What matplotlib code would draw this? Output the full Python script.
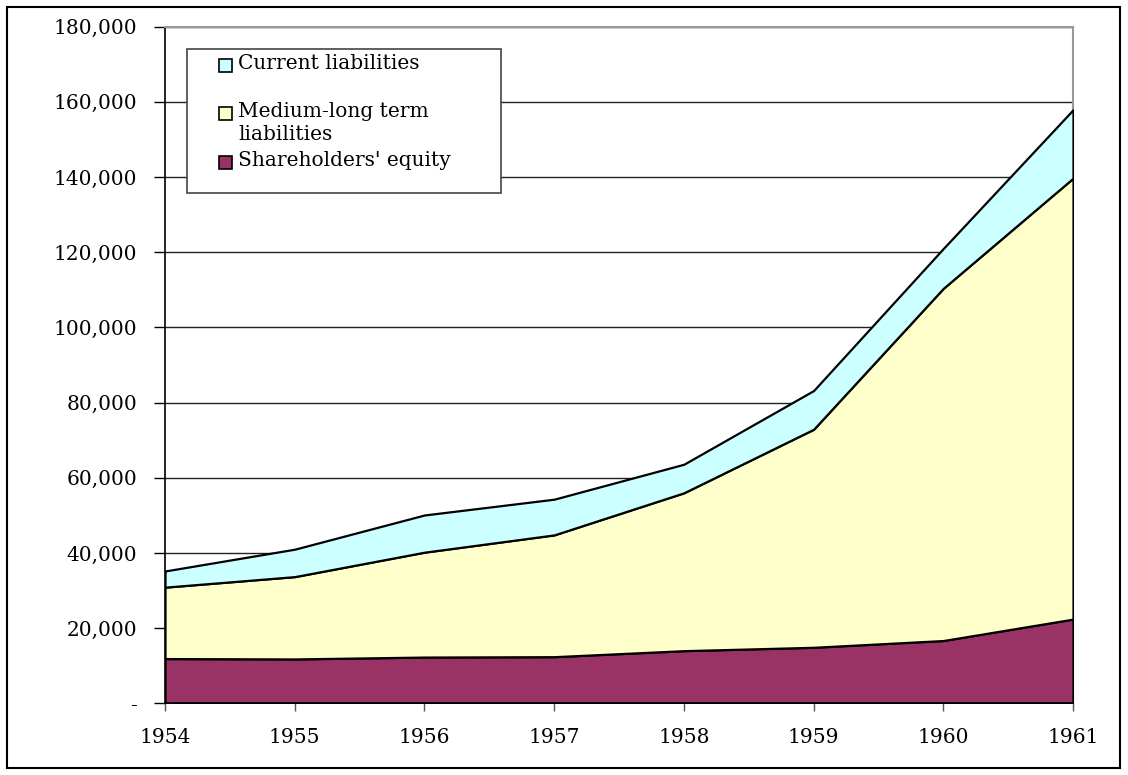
import matplotlib.pyplot as plt
from matplotlib.patches import Rectangle
import numpy as np

years = ['1954', '1955', '1956', '1957', '1958', '1959', '1960', '1961']
equity = [11900, 11800, 12300, 12400, 14000, 14900, 16700, 22400]
medium_long = [19000, 21900, 27900, 32400, 42000, 58000, 93700, 117300]
current = [4300, 7300, 9900, 9500, 7600, 10300, 10600, 18200]

series_labels = ['Shareholders\' equity', 'Medium-long term\nliabilities', 'Current liabilities']
colors = ['#993366', '#FFFFCC', '#CCFFFF']

W, H = 1128, 775
plt.rcParams['font.family'] = ['DejaVu Serif']
FS = 14.5


def fx(px):
    return px / W


def fy(py):
    return 1 - py / H


fig = plt.figure(figsize=(W / 100, H / 100), dpi=100)
fig.patches.append(Rectangle((fx(7), fy(768)), fx(1120) - fx(7), fy(7) - fy(768),
                             transform=fig.transFigure, fill=False,
                             edgecolor='black', lw=1.5))

ax = fig.add_axes([fx(165), fy(703.3), fx(1073) - fx(165), fy(26.7) - fy(703.3)])
x = np.arange(len(years))
ax.stackplot(x, equity, medium_long, current, colors=colors,
             edgecolor='black', linewidth=1.6, zorder=3)

ax.set_xlim(0, len(years) - 1)
ax.set_ylim(0, 180000)
yticks = np.arange(0, 180001, 20000)
ax.set_yticks(yticks)
ax.set_yticklabels(['-'] + [f'{v:,}' for v in yticks[1:]])
ax.set_xticks(x)
ax.set_xticklabels(years)
ax.grid(axis='y', color='#222222', lw=1.0, zorder=1)
ax.tick_params(axis='y', length=8, width=1, pad=12, labelsize=FS)
ax.tick_params(axis='x', length=6, width=1, pad=12, labelsize=FS, color='#555555')

for side in ['top', 'right']:
    ax.spines[side].set_color('#999999')
    ax.spines[side].set_linewidth(1.5)
for side in ['left', 'bottom']:
    ax.spines[side].set_color('black')
    ax.spines[side].set_linewidth(1.2)
ax.spines['bottom'].set_zorder(4)

# legend drawn by hand to copy the spreadsheet layout
fig.patches.append(Rectangle((fx(187), fy(193)), fx(501) - fx(187), fy(49) - fy(193),
                             transform=fig.transFigure, facecolor='white',
                             edgecolor='#444444', lw=1.2, zorder=5))
leg_rows = [(65, 2), (113, 1), (162, 0)]
for y_text, idx in leg_rows:
    fig.patches.append(Rectangle((fx(219), fy(y_text + 6.5)), fx(13), fy(0) - fy(13),
                                 transform=fig.transFigure, facecolor=colors[idx],
                                 edgecolor='black', lw=1.2, zorder=6))
    fig.text(fx(238), fy(y_text - 11), series_labels[idx], fontsize=FS,
             va='top', ha='left', linespacing=1.25, zorder=7)

fig.savefig('out.png', dpi=100)
